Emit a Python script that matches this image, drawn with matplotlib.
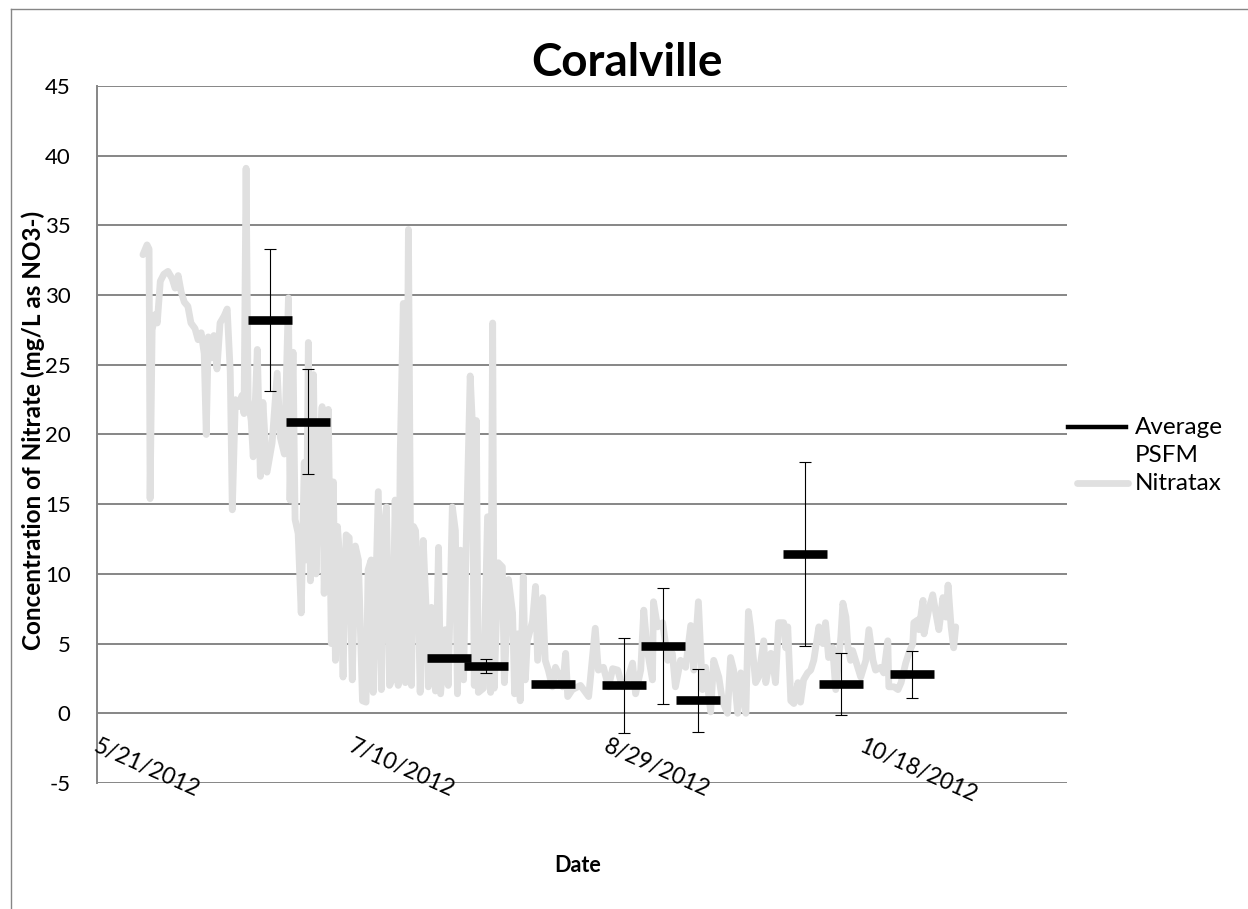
import matplotlib
matplotlib.use('Agg')
import matplotlib.pyplot as plt
from matplotlib.lines import Line2D
import numpy as np

plt.rcParams['font.family'] = ['Lato', 'DejaVu Sans']

# ---------------- data ----------------
# days since 5/21/2012
tick_days = [0, 50, 100, 150]
tick_labels = ['5/21/2012', '7/10/2012', '8/29/2012', '10/18/2012']
y_ticks = [-5, 0, 5, 10, 15, 20, 25, 30, 35, 40, 45]

psfm_days = [33.9, 41.4, 68.9, 76.1, 89.4, 103.3, 110.8, 117.8, 138.6, 145.7, 159.6]
psfm_values = [28.2, 20.9, 4.0, 3.4, 2.1, 2.0, 4.8, 0.93, 11.4, 2.1, 2.8]
psfm_low = [23.1, 17.2, 3.9, 2.9, 2.0, -1.4, 0.65, -1.35, 4.8, -0.1, 1.1]
psfm_high = [33.3, 24.7, 4.1, 3.9, 2.2, 5.4, 9.0, 3.2, 18.0, 4.3, 4.5]

nitratax_days = [
    9.0, 9.8, 10.2, 10.4, 10.8, 11.4, 11.8, 12.4, 13.1, 13.9, 14.7, 15.3, 15.9, 16.5,
    17.1, 17.8, 18.4, 19.2, 19.8, 20.4, 21.0, 21.4, 21.8, 22.4, 22.9, 23.5, 24.1, 24.9,
    25.5, 26.1, 26.5, 27.1, 27.8, 28.4, 28.8, 29.2, 29.6, 30.2, 30.6, 31.4, 32.0, 32.5,
    33.3, 34.3, 35.3, 35.9, 36.7, 37.5, 37.8, 38.4, 38.8, 39.4, 40.0, 40.6, 41.0, 41.4,
    41.8, 42.4, 42.9, 43.5, 44.1, 44.5, 45.3, 45.9, 46.3, 46.7, 47.1, 47.6, 48.2, 48.8,
    49.4, 50.0, 50.6, 51.2, 52.0, 52.7, 53.1, 53.7, 54.1, 55.1, 55.7, 56.1, 56.7, 57.3,
    57.8, 58.4, 59.0, 59.4, 60.0, 60.4, 61.0, 61.6, 62.0, 62.4, 62.9, 63.3, 63.9, 64.5,
    64.9, 65.5, 66.3, 66.9, 67.3, 68.2, 68.8, 69.6, 70.2, 70.6, 71.2, 71.8, 72.2, 73.1,
    73.5, 73.9, 74.3, 74.7, 75.7, 76.5, 77.1, 77.5, 77.8, 78.6, 79.4, 79.8, 80.6, 81.4,
    81.8, 82.4, 82.9, 83.5, 83.9, 84.3, 85.3, 85.9, 86.3, 87.3, 87.8, 88.4, 89.2, 89.8,
    90.8, 91.2, 91.8, 92.2, 93.1, 94.7, 96.3, 97.6, 98.2, 99.2, 100.2, 101.0, 102.0, 102.9,
    103.9, 104.9, 105.5, 106.5, 107.1, 107.8, 108.8, 109.0, 109.8, 110.8, 111.8, 112.7, 113.3, 114.3,
    115.3, 116.3, 116.9, 117.8, 118.6, 119.2, 120.2, 120.8, 121.8, 122.5, 123.5, 124.1, 124.7, 125.5,
    126.1, 127.1, 127.6, 128.0, 129.0, 129.6, 130.6, 131.0, 132.0, 132.5, 132.9, 133.5, 134.5, 134.9,
    135.3, 135.9, 136.5, 137.3, 137.8, 138.4, 139.2, 139.8, 140.4, 141.4, 142.2, 142.7, 143.3, 144.1,
    144.7, 145.7, 146.1, 146.7, 147.1, 147.6, 148.0, 149.0, 149.6, 150.6, 151.2, 152.0, 152.5, 153.5,
    154.1, 154.9, 155.1, 156.1, 156.9, 157.5, 158.4, 159.0, 159.8, 160.0, 160.8, 161.0, 161.8, 162.0,
    162.9, 163.7, 164.3, 164.9, 165.7, 166.3, 166.7, 167.3, 167.8, 168.2,
]
nitratax_values = [
    32.9, 33.6, 33.3, 15.4, 27.5, 28.6, 28.0, 31.0, 31.5, 31.7, 31.2, 30.5, 31.4, 30.2,
    29.5, 29.2, 28.0, 27.6, 26.8, 27.3, 25.8, 20.0, 27.0, 25.5, 27.1, 24.7, 28.0, 28.5,
    29.0, 24.5, 14.6, 22.5, 22.0, 22.8, 21.5, 39.1, 22.5, 21.0, 18.4, 26.1, 17.0, 22.3,
    17.3, 19.4, 24.4, 19.8, 18.6, 29.8, 15.3, 25.9, 13.9, 12.9, 7.2, 18.0, 11.0, 26.6,
    9.5, 24.3, 10.0, 18.0, 22.0, 8.6, 21.8, 5.0, 16.6, 3.8, 13.4, 10.8, 2.6, 12.8,
    12.6, 2.4, 12.0, 11.0, 0.9, 0.8, 10.3, 11.0, 1.5, 15.9, 1.7, 12.9, 14.8, 2.0,
    2.4, 15.3, 2.0, 18.7, 29.4, 2.2, 34.7, 2.0, 13.4, 13.1, 8.8, 1.5, 12.4, 7.2,
    1.9, 7.6, 1.6, 11.9, 1.4, 6.0, 2.0, 14.8, 13.1, 1.4, 11.7, 2.4, 10.3, 24.2,
    21.0, 2.0, 21.0, 1.5, 1.8, 14.1, 1.5, 28.0, 1.8, 10.8, 10.5, 2.2, 9.6, 7.2,
    1.4, 5.7, 0.9, 9.8, 2.4, 5.2, 6.6, 9.1, 3.8, 8.3, 3.8, 3.1, 1.9, 3.3,
    2.5, 1.9, 4.3, 1.2, 1.7, 2.0, 1.2, 6.1, 3.1, 3.3, 1.9, 3.2, 3.1, 1.9,
    2.4, 3.6, 1.4, 3.1, 7.4, 4.5, 2.4, 8.0, 6.2, 6.5, 3.8, 4.3, 1.9, 3.8,
    3.3, 6.3, 3.1, 8.0, 1.7, 3.3, 0.1, 3.8, 2.6, 0.9, 0.0, 4.0, 3.1, 0.0,
    2.9, 0.0, 7.3, 6.2, 2.2, 2.6, 5.2, 2.2, 4.3, 3.3, 2.2, 6.5, 6.5, 4.7,
    6.2, 0.9, 0.7, 2.2, 0.8, 2.4, 2.9, 3.1, 3.8, 6.2, 5.0, 6.5, 4.0, 4.7,
    1.7, 5.5, 7.9, 6.9, 4.7, 3.8, 4.5, 3.3, 2.6, 3.8, 6.0, 3.8, 3.1, 3.3,
    2.9, 5.2, 1.9, 1.9, 1.7, 2.2, 3.6, 4.3, 5.0, 6.5, 6.7, 6.0, 8.1, 5.7,
    7.4, 8.5, 7.2, 6.0, 8.3, 6.9, 9.2, 6.2, 4.7, 6.2,
]

# ---------------- figure ----------------
W, H = 1248, 909
fig = plt.figure(figsize=(W / 100, H / 100), dpi=100)
fig.patch.set_facecolor('white')

def fx(px):
    return px / W

def fy(py):
    return 1 - py / H

ax = fig.add_axes([fx(97), fy(783), fx(1067) - fx(97), fy(86) - fy(783)])
ax.set_xlim(0, 190)
ax.set_ylim(-5, 45)

grid_c = '#868686'
ax.set_yticks(y_ticks)
ax.set_yticklabels([str(v) for v in y_ticks], fontsize=16)
ax.tick_params(axis='y', length=0, pad=19)
ax.set_xticks([])
for v in y_ticks:
    ax.axhline(v, color=grid_c, lw=1.4, zorder=1)
for s in ['top', 'right', 'bottom']:
    ax.spines[s].set_visible(False)
ax.spines['left'].set_color(grid_c)
ax.spines['left'].set_linewidth(1.4)

# Nitratax series
ax.plot(nitratax_days, nitratax_values, color='#e0e0e0', lw=4.9,
        solid_joinstyle='round', solid_capstyle='round', zorder=2)

# PSFM averages with error bars
vals = np.array(psfm_values)
yerr = [vals - np.array(psfm_low), np.array(psfm_high) - vals]
ax.plot(psfm_days, psfm_values, linestyle='none', marker='_', ms=32, mew=6.2,
        color='black', zorder=3)
ax.errorbar(psfm_days, psfm_values, yerr=yerr, fmt='none',
            ecolor='black', elinewidth=0.8, capsize=4.3,
            capthick=0.8, zorder=4)

# x tick labels at the horizontal axis (crossing at 0)
for d, lab in zip(tick_days, tick_labels):
    ax.annotate(lab, xy=(d, 0), xytext=(2, -22), textcoords='offset pixels',
                rotation=-24, rotation_mode='anchor', ha='left', va='top',
                fontsize=16.5, annotation_clip=False)

# titles
fig.text(fx(627), fy(63), 'Coralville', ha='center', va='center',
         fontsize=33, fontweight='bold')
fig.text(fx(33), fy(430), 'Concentration of Nitrate (mg/L as NO3-)',
         rotation=90, ha='center', va='center', fontsize=17.5, fontweight='bold')
fig.text(fx(578), fy(866), 'Date', ha='center', va='center',
         fontsize=15.5, fontweight='bold')

# legend
fig.add_artist(Line2D([fx(1068), fx(1126)], [fy(427), fy(427)], color='black', lw=3.2))
fig.text(fx(1135), fy(427), 'Average', ha='left', va='center', fontsize=17.5)
fig.text(fx(1135), fy(455), 'PSFM', ha='left', va='center', fontsize=17.5)
fig.add_artist(Line2D([fx(1077), fx(1128)], [fy(483), fy(483)], color='#e0e0e0',
                      lw=4.9, solid_capstyle='round'))
fig.text(fx(1135), fy(483), 'Nitratax', ha='left', va='center', fontsize=17.5)

# outer chart border (left and top visible)
fig.add_artist(Line2D([fx(11), fx(11)], [0, fy(9)], color=grid_c, lw=1.0))
fig.add_artist(Line2D([fx(11), 1], [fy(9), fy(9)], color=grid_c, lw=1.0))

fig.savefig('out.png', dpi=100, facecolor='white')
